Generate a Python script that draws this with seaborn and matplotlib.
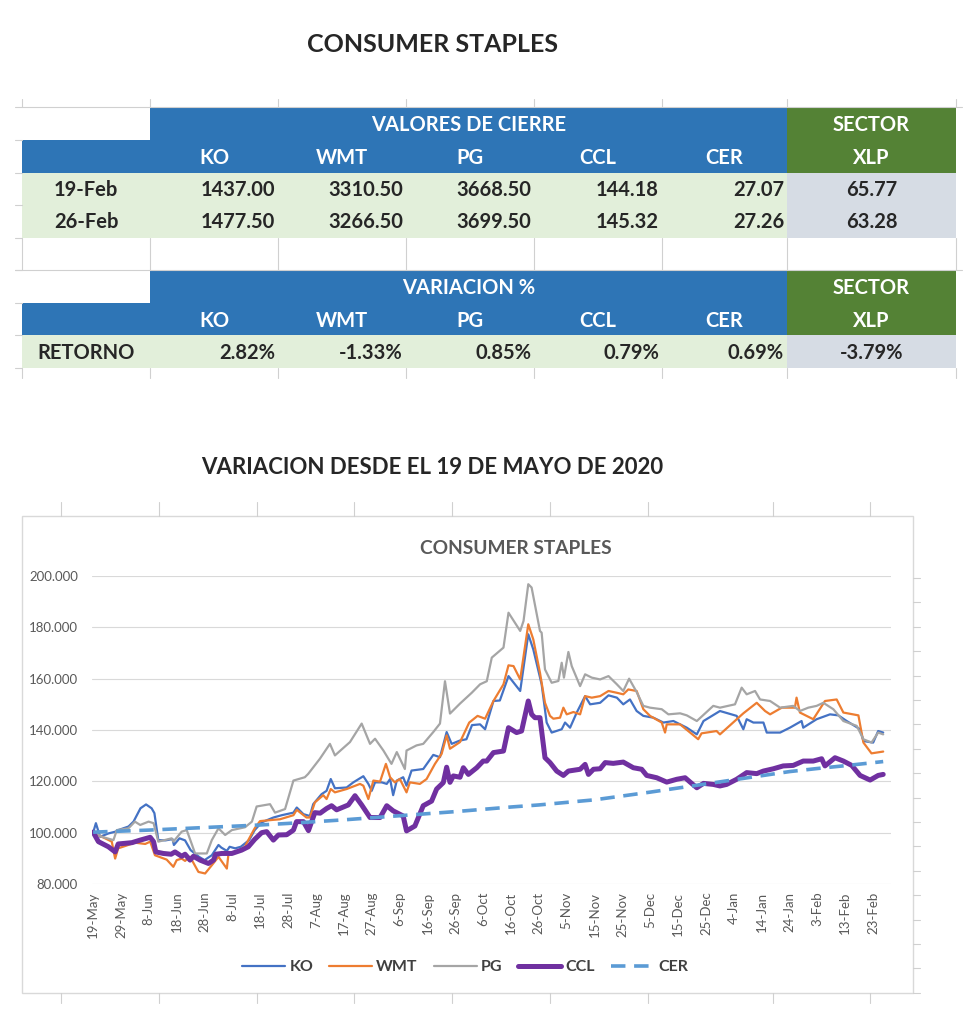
import matplotlib
matplotlib.use("Agg")
import matplotlib.pyplot as plt
from matplotlib.patches import Rectangle
import seaborn as sns
import pandas as pd

# Table values
tickers = ["KO", "WMT", "PG", "CCL", "CER"]
sector = "XLP"
fechas = ["19-Feb", "26-Feb"]
cierre = [[1437.00, 3310.50, 3668.50, 144.18, 27.07],
          [1477.50, 3266.50, 3699.50, 145.32, 27.26]]
cierre_xlp = [65.77, 63.28]
retorno = [2.82, -1.33, 0.85, 0.79, 0.69]
retorno_xlp = -3.79

# Chart values: days since 19-May-2020 and index (base 100)
start = "2020-05-19"
tick_labels = ["19-May", "29-May", "8-Jun", "18-Jun", "28-Jun", "8-Jul", "18-Jul", "28-Jul",
               "7-Aug", "17-Aug", "27-Aug", "6-Sep", "16-Sep", "26-Sep", "6-Oct", "16-Oct",
               "26-Oct", "5-Nov", "15-Nov", "25-Nov", "5-Dec", "15-Dec", "25-Dec", "4-Jan",
               "14-Jan", "24-Jan", "3-Feb", "13-Feb", "23-Feb"]

ko_days = [0, 1, 2.5, 5.5, 8, 9, 12.7, 14.5, 17, 19, 21, 22, 23.4, 26, 28.5, 29, 31, 33, 35, 38,
           40, 42.6, 45, 46, 48, 49, 51, 53, 56, 58, 60.5, 64.7, 67.7, 71.9, 73.1, 75.5, 77.8, 79,
           82, 83.8, 85.3, 86.8, 91, 93.4, 97, 98.8, 100, 101.2, 103.6, 105.4, 106.6, 107.7, 109,
           111.3, 112.5, 114.3, 118.5, 122.1, 124.5, 126.9, 128.7, 131.7, 134, 136, 138.9, 140.7,
           143.7, 146, 149.1, 153.3, 156.2, 158, 161, 162.8, 164.6, 168.2, 169.4, 171.2, 173.6,
           176.6, 178.4, 182, 185, 188, 190.3, 192.7, 195.1, 197.5, 201.1, 204.7, 208.3, 213.1,
           216.7, 219.1, 225, 231, 233.4, 234.6, 237, 240.6, 241.8, 246.6, 250.1, 254.3, 254.9,
           259.7, 264.5, 267.5, 270.5, 275.3, 276.5, 280, 281.8, 283.6]
ko_vals = [100, 103.7, 98.4, 99.7, 100.4, 101, 102.4, 104.3, 109.5, 111, 109.5, 107.6, 97.1, 97,
           97.5, 95.2, 97.8, 97, 93.2, 90.6, 89.3, 91.2, 95.2, 94.2, 92.9, 94.5, 93.9, 94.5, 97.1,
           101, 104, 105.9, 106.8, 107.8, 109.8, 107.2, 106.5, 111.1, 115, 116.3, 120.9, 117.3,
           117.6, 119.6, 122, 119, 116.3, 119.6, 119.6, 119, 120.9, 114.6, 120.3, 121.6, 118.3,
           124.2, 124.8, 130.3, 129.4, 139.2, 134.6, 135.9, 136.4, 141.9, 142.2, 140.3, 151.3,
           151.5, 161, 155.2, 177.3, 171.4, 157.8, 142.9, 139, 140.3, 142.9, 140.9, 146.8, 153.2,
           150, 150.6, 153.5, 152.6, 150, 151.9, 147.4, 145.5, 144.8, 142.9, 143.5, 140.9, 138.3,
           143.5, 147.4, 145.5, 140.3, 144.2, 142.9, 142.9, 139, 139, 140.9, 143.5, 140.9, 144.2,
           146.1, 145.7, 143.5, 140.3, 135.7, 135.1, 139.6, 139]

wmt_days = [0, 4.3, 6.7, 7.9, 9, 11.5, 15, 18.7, 20.5, 22.2, 26.4, 28.8, 30, 31.8, 33, 34.8, 37.8,
            40.2, 42.6, 45, 48, 48.6, 52, 54.5, 55.7, 58, 59.9, 64.7, 67, 71.9, 73.1, 76.6, 77.8,
            79.6, 82.6, 83.8, 85.3, 86.8, 91, 95.8, 97, 98.8, 100.6, 103, 105.1, 106.6, 108.3,
            110.1, 112.5, 113.7, 117.3, 119.7, 122.7, 125.1, 126.9, 128.1, 131.7, 135, 138, 140.7,
            143.7, 147.3, 149.1, 150.9, 153.3, 156.2, 158, 160.4, 162.2, 164, 165.2, 167.6, 168.8,
            170, 172.4, 174.8, 176.6, 179, 182, 185, 188, 190.3, 192.1, 195.1, 197.5, 199.9, 204.1,
            205.3, 205.9, 210.7, 217.2, 218.4, 223.8, 225, 233.4, 238.2, 241.2, 243, 247.2, 251.9,
            252.5, 253.7, 258.5, 262.7, 266.9, 269.3, 274.7, 276.5, 279.4, 283.6]
wmt_vals = [100, 97.8, 96.5, 89.9, 93.9, 94.8, 96.1, 95.6, 96.5, 91.2, 89.5, 86.7, 89.3, 89.9, 89,
            90.6, 84.7, 84.1, 87.3, 90.6, 86, 91.9, 92.9, 94.5, 97.1, 101.7, 104.5, 105, 105.2,
            106.8, 108.9, 105.9, 105.9, 111.8, 114.6, 113.1, 117, 115.7, 117, 119, 118.3, 113.1,
            120.3, 119.9, 126.8, 121.6, 119.6, 120.9, 115.7, 119.6, 119, 120.9, 126.8, 130.7,
            137.9, 132.7, 135.3, 142.9, 145.5, 144.4, 151.3, 157.8, 165.2, 164.9, 159.7, 181.2,
            175.3, 162.3, 150.6, 145.5, 144.4, 144.8, 148.7, 146.1, 147, 146.1, 153.2, 152.6,
            153.2, 155.2, 154.5, 153.9, 155.8, 155.2, 148.1, 145.5, 142.9, 139, 142.2, 142.2,
            136.4, 138.7, 139.6, 138.3, 146.5, 150.6, 147.4, 146.1, 148.7, 148.7, 152.6, 146.8,
            144.2, 151.3, 151.9, 146.8, 145.7, 135.1, 130.9, 131.6]

pg_days = [0, 3.1, 7.3, 8.5, 12.7, 15, 16.9, 19.9, 21.7, 23.4, 28.2, 28.8, 31.8, 33.6, 35.4, 36.6,
           40.8, 42.6, 45, 47.4, 49.8, 54.5, 57, 58.7, 63.5, 65.3, 68.9, 71.9, 76, 77.2, 81.4, 85,
           86.8, 92.2, 96.4, 99.4, 101.2, 104.2, 107.1, 109, 111.9, 112.5, 116.1, 118.5, 122.1,
           124.5, 126.3, 128.1, 131.7, 135.9, 138.9, 141.3, 143.1, 147.3, 149.1, 153.3, 154.5,
           156.2, 157.4, 160.4, 161, 162.2, 164.6, 167, 168.2, 169, 170.6, 171.8, 174.8, 176.6,
           179, 182, 185, 188, 190.3, 192.4, 195.1, 197.5, 199.9, 204.1, 206.5, 210.7, 213.1,
           216.7, 222.6, 225, 230.4, 232.8, 234.6, 237.6, 239.4, 243, 246.6, 251.3, 253.7, 256.7,
           259.7, 262.1, 265.7, 269.3, 274.1, 276.5, 279.4, 281.8, 283.6]
pg_vals = [100.4, 98.4, 97.1, 101, 101.7, 104.3, 103, 104.3, 103.7, 96.5, 97.8, 96.5, 100.4, 101,
           95.6, 91.9, 91.9, 97.1, 101.7, 99.1, 101, 102.1, 104.3, 110.2, 111.1, 107.8, 109.2,
           120.3, 121.6, 122.9, 128.8, 134.6, 130.1, 135.3, 142.5, 134.6, 136.6, 132, 126.8, 131.4,
           124.8, 132, 134, 134.6, 139.2, 142.5, 159, 146.4, 150.3, 154.5, 157.8, 159, 168.2,
           172.1, 185.7, 178.6, 182.5, 196.8, 195.5, 178.6, 177.9, 163.6, 158.4, 159.1, 166.2,
           160.4, 170.4, 164.9, 157.1, 161.7, 160.4, 159.7, 161, 157.8, 155.2, 160, 154.8, 149.4,
           148.7, 148.1, 146.1, 146.5, 145.7, 143.5, 149.4, 148.7, 150, 156.5, 153.9, 155.2, 151.9,
           151.3, 148.7, 149.4, 147.4, 148.7, 149.4, 150.6, 148.1, 143.5, 141.6, 136.4, 135.1,
           139, 138.3]

ccl_days = [0, 1.9, 5.5, 7.9, 9, 13.9, 16.9, 20.5, 21.7, 22.5, 25.2, 28, 29.4, 31.8, 33, 34.8, 36,
            38.4, 41.4, 43.2, 44, 46.2, 49.8, 53.3, 55.7, 58, 60.5, 62.3, 64.7, 66.5, 69.5, 71.9,
            73, 75.5, 77.3, 79.6, 81.5, 83.8, 85.6, 87.4, 91.6, 94, 96.4, 99.4, 103, 105.4, 107.7,
            111.3, 112.5, 115.5, 118.5, 121.5, 123.3, 125.7, 126.9, 128.1, 129.3, 131.7, 132.9,
            134.7, 137.7, 140, 141.3, 143.7, 147.3, 149.1, 152, 153.8, 156.2, 157.4, 158.6, 160.4,
            162.2, 164, 166.4, 168.8, 170.6, 174.8, 176.6, 177.8, 179.6, 182, 183.8, 186.7, 190.3,
            193.9, 196.9, 198.7, 202.3, 205.9, 209.5, 212.5, 214.3, 216.7, 219.1, 222.6, 225,
            227.4, 231, 234.6, 238.2, 240.6, 244.2, 247.7, 251.3, 254.9, 258.5, 261.5, 262.7,
            266.3, 269.3, 272.3, 275.3, 278.9, 281.8, 283.6]
ccl_vals = [100.2, 96.5, 94.5, 92.5, 95.6, 96.1, 97.1, 98.2, 96.5, 92.5, 91.9, 91.6, 92.5, 90.8,
            91.6, 89.3, 90.8, 89.3, 88, 89.3, 91.6, 91.9, 91.9, 93.2, 94.5, 97.4, 100, 100.4, 97.1,
            99.1, 99.2, 101, 104.3, 104.3, 100.8, 107.8, 107.6, 109.4, 110.5, 108.9, 110.8, 114.4,
            110.8, 105.9, 105.9, 110.5, 108.5, 106.5, 100.7, 102.6, 110.5, 112.3, 117, 119.5,
            125.5, 119.6, 122.1, 121.6, 125.3, 122.7, 125.3, 127.9, 127.9, 131.2, 131.8, 140.9,
            139, 139.6, 151.3, 146.1, 144.8, 144.8, 129.2, 127.3, 124, 122.3, 124, 124.7, 126.6,
            122.7, 124.7, 124.9, 127.3, 127, 127.5, 125.3, 124.7, 122.3, 121.4, 119.7, 120.8,
            121.4, 119.7, 117.5, 119.2, 118.8, 118.2, 118.8, 120.8, 123.4, 123, 124, 124.9, 126,
            126.2, 127.9, 127.9, 128.8, 126, 129.2, 127.9, 126.2, 122.3, 120.5, 122.3, 122.7]

cer_days = [0, 10, 20, 30, 40, 50, 60, 70, 80, 90, 100, 110, 120, 130, 140, 150, 160, 170, 180,
            190, 200, 210, 220, 230, 240, 250, 260, 270, 283.6]
cer_vals = [100.2, 100.6, 101, 101.5, 102, 102.5, 103, 103.6, 104.3, 105, 105.8, 106.6, 107.4,
            108.2, 109.1, 110, 110.8, 111.8, 112.8, 114.3, 115.8, 117.4, 119, 120.6, 122.2, 123.8,
            125, 126.1, 127.7]

series = [
    ("KO", ko_days, ko_vals, "#4472C4", 1.6, "-"),
    ("WMT", wmt_days, wmt_vals, "#ED7D31", 1.6, "-"),
    ("PG", pg_days, pg_vals, "#A5A5A5", 1.6, "-"),
    ("CCL", ccl_days, ccl_vals, "#7030A0", 3.6, "-"),
    ("CER", cer_days, cer_vals, "#5B9BD5", 2.6, (0, (4, 2.4))),
]

sns.set_style("white")
plt.rcParams["font.family"] = ["Lato", "DejaVu Sans"]

W, H = 980, 1023
fig = plt.figure(figsize=(W / 100, H / 100), dpi=100)

# background axes in pixel coordinates
bg = fig.add_axes([0, 0, 1, 1])
bg.set_xlim(0, W)
bg.set_ylim(H, 0)
bg.axis("off")

blue = "#2E75B6"
green = "#548235"
light_green = "#E2EFDA"
light_gray = "#D6DCE4"
grid_c = "#D0D0D0"
fs = 14.5

bg.text(432, 45, "CONSUMER STAPLES", ha="center", va="center", fontsize=18, fontweight="bold")

cols = [22, 150, 278, 406, 534, 662, 787, 956]


def box(x0, x1, y0, y1, color):
    bg.add_patch(Rectangle((x0, y0), x1 - x0, y1 - y0, facecolor=color, edgecolor="none"))


def header(y0, title):
    # y0: top of header block (two rows of ~33 px)
    box(cols[1], cols[6], y0, y0 + 66, blue)
    box(cols[0], cols[1], y0 + 33, y0 + 66, blue)
    box(cols[6], cols[7], y0, y0 + 66, green)
    bg.text((cols[1] + cols[6]) / 2, y0 + 18, title, ha="center", va="center",
            color="white", fontsize=fs, fontweight="bold")
    bg.text((cols[6] + cols[7]) / 2, y0 + 18, "SECTOR", ha="center", va="center",
            color="white", fontsize=fs, fontweight="bold")
    for i, t in enumerate(tickers):
        bg.text((cols[i + 1] + cols[i + 2]) / 2, y0 + 51, t, ha="center", va="center",
                color="white", fontsize=fs, fontweight="bold")
    bg.text((cols[6] + cols[7]) / 2, y0 + 51, sector, ha="center", va="center",
            color="white", fontsize=fs, fontweight="bold")


# grid stubs around the sheet
bg.plot([15, 962], [107, 107], color=grid_c, lw=0.8)
for x in cols:
    bg.plot([x, x], [99, 107], color=grid_c, lw=0.8)
    bg.plot([x, x], [238, 270], color=grid_c, lw=0.8)
    bg.plot([x, x], [368, 378], color=grid_c, lw=0.8)
for y in [140, 173, 205, 238, 270, 303, 335, 368]:
    bg.plot([15, 22], [y, y], color=grid_c, lw=0.8)
bg.plot([15, 962], [270, 270], color=grid_c, lw=0.8)

# table 1
header(107, "VALORES DE CIERRE")
for r, (f, vals, xlp) in enumerate(zip(fechas, cierre, cierre_xlp)):
    y0 = 173 + r * 32.5
    box(cols[0], cols[6], y0, y0 + 32.5, light_green)
    box(cols[6], cols[7], y0, y0 + 32.5, light_gray)
    yc = y0 + 17
    bg.text((cols[0] + cols[1]) / 2, yc, f, ha="center", va="center", fontsize=fs, fontweight="bold")
    for i, v in enumerate(vals):
        bg.text(cols[i + 2] - 3, yc, f"{v:.2f}", ha="right", va="center", fontsize=fs, fontweight="bold")
    bg.text((cols[6] + cols[7]) / 2, yc, f"{xlp:.2f}", ha="center", va="center", fontsize=fs, fontweight="bold")

# table 2
header(270, "VARIACION %")
box(cols[0], cols[6], 335, 368, light_green)
box(cols[6], cols[7], 335, 368, light_gray)
bg.text((cols[0] + cols[1]) / 2, 353, "RETORNO", ha="center", va="center", fontsize=fs, fontweight="bold")
for i, v in enumerate(retorno):
    bg.text(cols[i + 2] - 3, 353, f"{v:.2f}%", ha="right", va="center", fontsize=fs, fontweight="bold")
bg.text((cols[6] + cols[7]) / 2, 353, f"{retorno_xlp:.2f}%", ha="center", va="center",
        fontsize=fs, fontweight="bold")

bg.text(432, 467, "VARIACION DESDE EL 19 DE MAYO DE 2020", ha="center", va="center",
        fontsize=16, fontweight="bold")

# chart frame and sheet stubs around it
for x in [61, 159, 257, 354, 452, 550, 648, 773, 870]:
    bg.plot([x, x], [502, 516], color=grid_c, lw=0.8)
    bg.plot([x, x], [993, 1003], color=grid_c, lw=0.8)
for k in range(18):
    y = 578 + k * 24.4
    bg.plot([913, 920], [y, y], color=grid_c, lw=0.8)
bg.add_patch(Rectangle((22, 516), 891, 477, facecolor="white", edgecolor="#D9D9D9", lw=1))
bg.text(516, 548, "CONSUMER STAPLES", ha="center", va="center", fontsize=13.8,
        fontweight="bold", color="#595959")

# line chart
x0, x1, y_top, y_bot = 92, 891, 576, 884
ax = fig.add_axes([x0 / W, 1 - y_bot / H, (x1 - x0) / W, (y_bot - y_top) / H])
ax.patch.set_alpha(0)

t0 = pd.Timestamp(start)
for name, days, vals, color, lw, ls in series:
    dates = t0 + pd.to_timedelta(days, unit="D")
    sns.lineplot(x=dates, y=vals, ax=ax, color=color, lw=lw, linestyle=ls, label=name,
                 estimator=None, sort=False)

tick_dates = pd.date_range(t0, periods=len(tick_labels), freq="10D")
ax.set_xticks(tick_dates)
ax.set_xticklabels(tick_labels, rotation=90)
ax.set_xlim(t0 - pd.Timedelta(days=0.4), t0 + pd.Timedelta(days=286.4))
ax.set_ylim(80, 200)
yt = list(range(80, 201, 20))
ax.set_yticks(yt)
ax.set_yticklabels([f"{v:.3f}" for v in yt])
ax.tick_params(axis="x", length=0, pad=5.5, labelsize=9.5, labelcolor="#595959")
ax.tick_params(axis="y", length=0, pad=10, labelsize=9.5, labelcolor="#595959")
ax.grid(axis="y", color="#D9D9D9", lw=0.8)
ax.grid(axis="x", visible=False)
for s in ax.spines.values():
    s.set_visible(False)
ax.set_xlabel("")
ax.set_ylabel("")

ax.legend(loc="center", bbox_to_anchor=(465 / W, 1 - 967 / H), bbox_transform=fig.transFigure,
          ncol=5, frameon=False, handlelength=2.7, handletextpad=0.25, columnspacing=1.0,
          prop={"size": 11.5, "weight": "bold"}, labelcolor="#404040")

fig.savefig("out.png", dpi=100)
